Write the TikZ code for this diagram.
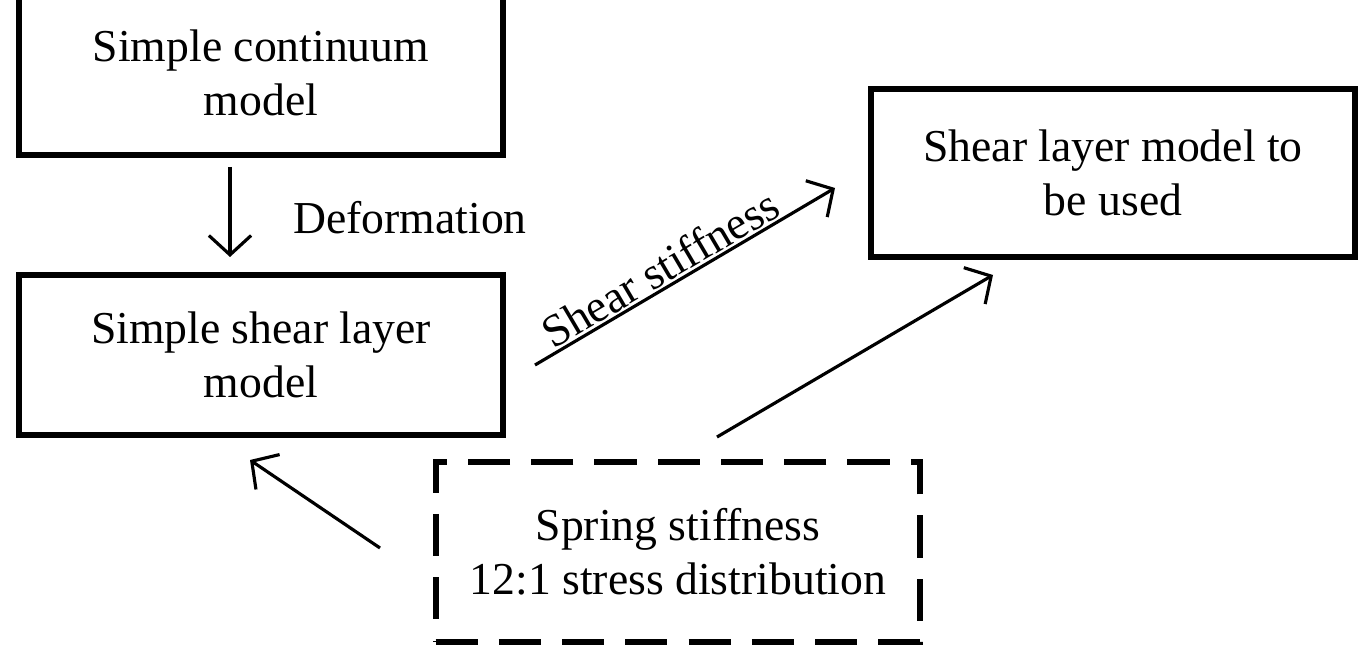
\documentclass[tikz,border=0pt]{standalone}
\usepackage{fontspec}
\setmainfont{Liberation Serif}
\usetikzlibrary{arrows.meta}
\begin{document}
\begin{tikzpicture}[x=0.02cm,y=-0.02cm,
    box/.style={draw, line width=3.4pt, minimum width=9.7cm, align=center, font=\fontsize{26}{31}\selectfont},
    flow/.style={-{Straight Barb[length=11pt,width=24pt,line width=1.8pt]}, line width=1.8pt}]
            \useasboundingbox (0,0) rectangle (1372,671);
            \node[box, minimum height=3.3cm] (A) at (261,73) {Simple continuum\\model};
            \node[box, minimum height=3.2cm] (B) at (261,355) {Simple shear layer\\model};
            \node[box, minimum height=3.35cm] (C) at (1113,173) {Shear layer model to\\be used};
            \node[box, dashed, dash pattern=on 24pt off 12pt, minimum height=3.6cm] (D) at (678,552) {Spring stiffness\\12:1 stress distribution};

            \coordinate (a1) at (230,167);
            \coordinate (b1) at (230,257);
            \coordinate (b2) at (535,365);
            \coordinate (c1) at (835,188);
            \coordinate (d1) at (717,437);
            \coordinate (c2) at (993,275);
            \coordinate (d2) at (380,548);
            \coordinate (b3) at (250,460);

            \draw[flow] (a1) -- (b1);
            \node[font=\fontsize{26}{31}\selectfont] (def) at (410,218) {Deformation};
            \draw[flow] (b2) -- node[sloped, above, pos=0.45, inner sep=1pt, font=\fontsize{26}{31}\selectfont] (stiff) {Shear stiffness} (c1);
            \draw[flow] (d1) -- (c2);
            \draw[flow] (d2) -- (b3);
        \end{tikzpicture}
\end{document}
